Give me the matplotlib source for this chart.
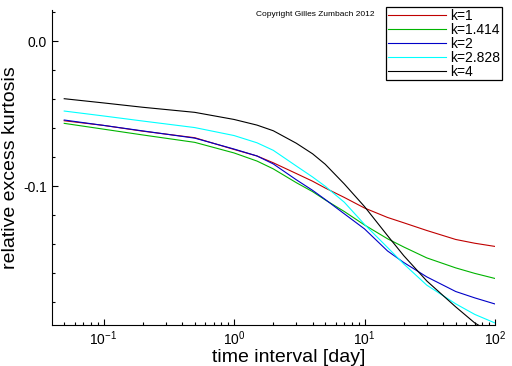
import numpy as np
import matplotlib
import matplotlib.pyplot as plt
from matplotlib.ticker import MultipleLocator, FixedLocator

matplotlib.use('Agg')
plt.rcParams['font.family'] = ['Liberation Sans', 'DejaVu Sans']

# time interval in days
t = [0.05, 0.1, 0.2, 0.5, 1, 1.5, 2, 3, 4, 5, 7, 10, 15, 20, 30, 50, 70, 100]

# relative excess kurtosis, one series per k
k1 = [-0.0548, -0.0580, -0.0620, -0.0665, -0.0746, -0.0791, -0.0838, -0.0912, -0.0965,
      -0.1012, -0.1077, -0.1150, -0.1215, -0.1252, -0.1305, -0.1367, -0.1393, -0.1415]
k1414 = [-0.0566, -0.0606, -0.0646, -0.0697, -0.0770, -0.0826, -0.0880, -0.0975, -0.1037,
         -0.1094, -0.1174, -0.1267, -0.1362, -0.1419, -0.1494, -0.1563, -0.1601, -0.1636]
k2 = [-0.0543, -0.0580, -0.0618, -0.0668, -0.0743, -0.0791, -0.0846, -0.0955, -0.1028,
      -0.1091, -0.1190, -0.1294, -0.1446, -0.1526, -0.1625, -0.1726, -0.1770, -0.1812]
k2828 = [-0.0481, -0.0515, -0.0550, -0.0595, -0.0650, -0.0700, -0.0752, -0.0860, -0.0936,
         -0.1000, -0.1110, -0.1263, -0.1422, -0.1536, -0.1682, -0.1811, -0.1884, -0.1943]
k4 = [-0.0396, -0.0425, -0.0455, -0.0490, -0.0539, -0.0578, -0.0617, -0.0703, -0.0776,
      -0.0848, -0.0984, -0.1140, -0.1340, -0.1479, -0.1653, -0.1832, -0.1943, -0.2025]

series = [k1, k1414, k2, k2828, k4]
labels = ['k=1', 'k=1.414', 'k=2', 'k=2.828', 'k=4']
colors = ['#c00000', '#00b400', '#0000c8', '#00ffff', '#000000']

fig = plt.figure(figsize=(5.12, 3.66), dpi=100)
ax = fig.add_axes([52 / 512, 1 - 325 / 366, (495 - 52) / 512, (325 - 10) / 366])

for y, lab, c in zip(series, labels, colors):
    ax.plot(t, y, color=c, lw=0.8, label=lab)

ax.set_xscale('log')
ax.set_xlim(0.0403, 100)
ax.set_ylim(-0.1957, 0.0216)

ax.yaxis.set_major_locator(FixedLocator([-0.1, 0.0]))
ax.yaxis.set_minor_locator(MultipleLocator(0.02))
ax.set_yticklabels(['-0.1', '0.0'])

ax.spines['top'].set_visible(False)
ax.spines['right'].set_visible(False)
ax.tick_params(which='both', direction='in', labelsize=10, width=0.8)
ax.tick_params(which='major', length=4.5)
ax.tick_params(which='minor', length=2.5)

ax.set_xlabel('time interval [day]', fontsize=14, labelpad=0)
ax.xaxis.set_label_coords(0.535, -0.075)
ax.set_ylabel('relative excess kurtosis', fontsize=14, labelpad=3)

fig.text(256 / 512, 1 - 15 / 366, 'Copyright Gilles Zumbach 2012', fontsize=6,
         ha='left', va='center')

leg = ax.legend(loc='upper right', bbox_to_anchor=(502 / 512, 1 - 7 / 366),
                bbox_transform=fig.transFigure, borderaxespad=0, fontsize=10,
                labelspacing=0.0, handlelength=4.2, handletextpad=0.3,
                borderpad=0.12, fancybox=False, framealpha=1, edgecolor='black')
leg.get_frame().set_linewidth(0.9)

fig.savefig('out.png', dpi=100)
